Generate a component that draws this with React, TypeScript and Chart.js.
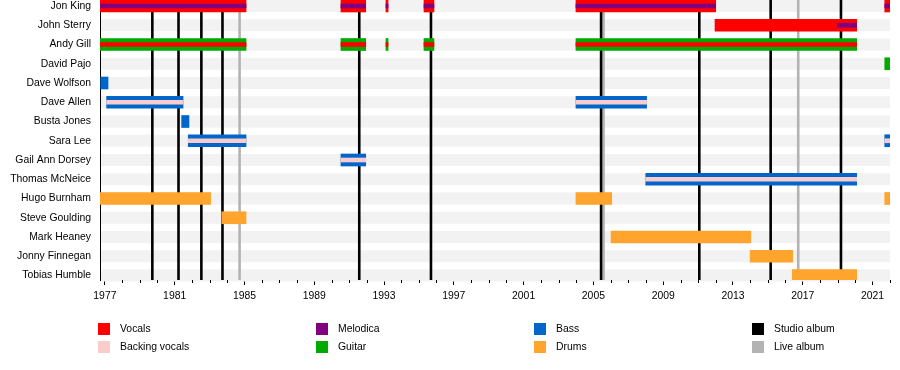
import React, { useEffect, useRef } from "react";
import { Chart, registerables } from "chart.js";
Chart.register(...registerables);

const members = [
  "Jon King", "John Sterry", "Andy Gill", "David Pajo", "Dave Wolfson", "Dave Allen",
  "Busta Jones", "Sara Lee", "Gail Ann Dorsey", "Thomas McNeice", "Hugo Burnham",
  "Steve Goulding", "Mark Heaney", "Jonny Finnegan", "Tobias Humble",
];

const xMin = 1976.72;
const xMax = 2022;
const majorYears = [1977, 1981, 1985, 1989, 1993, 1997, 2001, 2005, 2009, 2013, 2017, 2021];

type Seg = [string, number, number];

// full-height bars
const vocals: Seg[] = [
  ["Jon King", 1976.72, 1985.09], ["Jon King", 1990.53, 1991.95], ["Jon King", 1993.11, 1993.23],
  ["Jon King", 1995.29, 1995.86], ["Jon King", 2004.0, 2012.01], ["Jon King", 2021.7, 2022],
  ["John Sterry", 2011.97, 2020.09],
];
const guitar: Seg[] = [
  ["Andy Gill", 1976.72, 1985.09], ["Andy Gill", 1990.53, 1991.95], ["Andy Gill", 1993.11, 1993.23],
  ["Andy Gill", 1995.29, 1995.86], ["Andy Gill", 2004.0, 2020.09],
  ["David Pajo", 2021.7, 2022],
];
const bass: Seg[] = [
  ["Dave Wolfson", 1976.76, 1977.18],
  ["Dave Allen", 1977.1, 1981.48], ["Dave Allen", 2004.0, 2008.05],
  ["Busta Jones", 1981.4, 1981.82],
  ["Sara Lee", 1981.78, 1985.09], ["Sara Lee", 2021.7, 2022],
  ["Gail Ann Dorsey", 1990.53, 1991.95],
  ["Thomas McNeice", 2008.0, 2020.09],
];
const drums: Seg[] = [
  ["Hugo Burnham", 1976.72, 1983.06], ["Hugo Burnham", 2004.0, 2006.05], ["Hugo Burnham", 2021.7, 2022],
  ["Steve Goulding", 1983.7, 1985.09],
  ["Mark Heaney", 2006.01, 2014.02],
  ["Jonny Finnegan", 2013.98, 2016.42],
  ["Tobias Humble", 2016.4, 2020.09],
];

// thin stripes drawn over the bars
const melodica: Seg[] = [
  ["Jon King", 1976.72, 1985.09], ["Jon King", 1990.53, 1991.95], ["Jon King", 1993.11, 1993.23],
  ["Jon King", 1995.29, 1995.86], ["Jon King", 2004.0, 2012.01], ["Jon King", 2021.7, 2022],
  ["John Sterry", 2018.98, 2020.09],
];
const vocalsStripe: Seg[] = [
  ["Andy Gill", 1976.72, 1985.09], ["Andy Gill", 1990.53, 1991.95], ["Andy Gill", 1993.11, 1993.23],
  ["Andy Gill", 1995.29, 1995.86], ["Andy Gill", 2004.0, 2020.09],
];
const backingVocals: Seg[] = [
  ["Dave Allen", 1977.1, 1981.48], ["Dave Allen", 2004.0, 2008.05],
  ["Sara Lee", 1981.78, 1985.09], ["Sara Lee", 2021.7, 2022],
  ["Gail Ann Dorsey", 1990.53, 1991.95],
  ["Thomas McNeice", 2008.0, 2020.09],
];

const studioAlbums = [1979.72, 1981.22, 1982.53, 1983.74, 1991.58, 1995.69, 2005.44, 2011.07, 2015.16, 2019.19];
const liveAlbums = [1984.72, 2005.58, 2016.74];

const legendLabels = ["Vocals", "Backing vocals", "Melodica", "Guitar", "Bass", "Drums", "Studio album", "Live album"];

const COLORS: Record<string, string> = {
  "Vocals": "#ff0000",
  "Backing vocals": "#fbcccc",
  "Melodica": "#800080",
  "Guitar": "#00aa00",
  "Bass": "#0066cc",
  "Drums": "#ffa42c",
  "Studio album": "#000000",
  "Live album": "#b3b3b3",
};

const FONT = "'Liberation Sans', Arial, sans-serif";
const FSIZE = 10.4;

const toPoints = (segs: Seg[]) => segs.map(([n, s, e]) => ({ x: [s, e], y: members.indexOf(n) }));

export default function App() {
  const ref = useRef<HTMLCanvasElement | null>(null);

  useEffect(() => {
    document.body.style.margin = "0";
    const canvas = ref.current!;
    const mk = (label: string, segs: Seg[], thick: number, order: number) => ({
      label,
      data: toPoints(segs),
      backgroundColor: COLORS[label],
      borderWidth: 0,
      borderSkipped: false,
      barThickness: thick,
      grouped: false,
      order,
    });

    const background = {
      id: "bgLines",
      beforeDatasetsDraw(chart: any) {
        const { ctx, chartArea, scales } = chart;
        const xs = scales.x, ys = scales.y;
        ctx.save();
        ctx.fillStyle = "#f2f2f2";
        members.forEach((_, i) => {
          const y = ys.getPixelForValue(i);
          ctx.fillRect(chartArea.left + 1, y - 6, chartArea.right - chartArea.left - 1, 12);
        });
        const drawLines = (years: number[], color: string) => {
          ctx.strokeStyle = color;
          ctx.lineWidth = 2.6;
          years.forEach((yr) => {
            const x = xs.getPixelForValue(yr);
            ctx.beginPath();
            ctx.moveTo(x, chartArea.top);
            ctx.lineTo(x, chartArea.bottom);
            ctx.stroke();
          });
        };
        drawLines(liveAlbums, COLORS["Live album"]);
        drawLines(studioAlbums, COLORS["Studio album"]);
        ctx.restore();
      },
      afterDraw(chart: any) {
        const { ctx, chartArea, scales } = chart;
        const xs = scales.x;
        ctx.save();
        // minor ticks
        ctx.strokeStyle = "#000";
        ctx.lineWidth = 1;
        for (let yr = Math.ceil(xMin); yr <= xMax; yr++) {
          if (majorYears.includes(yr)) continue;
          const x = Math.round(xs.getPixelForValue(yr)) + 0.5;
          ctx.beginPath();
          ctx.moveTo(x, chartArea.bottom);
          ctx.lineTo(x, chartArea.bottom + 3);
          ctx.stroke();
        }
        // legend
        const colX = [98, 316, 534, 752];
        const rowY = [329, 347];
        ctx.font = `${FSIZE}px ${FONT}`;
        ctx.textBaseline = "middle";
        ctx.textAlign = "left";
        legendLabels.forEach((lab, i) => {
          const c = Math.floor(i / 2), r = i % 2;
          ctx.fillStyle = COLORS[lab];
          ctx.fillRect(colX[c], rowY[r] - 6, 12, 12);
          ctx.fillStyle = "#000";
          ctx.fillText(lab, colX[c] + 22, rowY[r] + 0.5);
        });
        ctx.restore();
      },
    };

    const chart = new Chart(canvas, {
      type: "bar",
      data: {
        datasets: [
          mk("Melodica", melodica, 4, 0),
          mk("Vocals", vocalsStripe, 4, 0),
          mk("Backing vocals", backingVocals, 4, 0),
          mk("Vocals", vocals, 12, 1),
          mk("Guitar", guitar, 12, 1),
          mk("Bass", bass, 12, 1),
          mk("Drums", drums, 12, 1),
        ] as any,
      },
      plugins: [background],
      options: {
        indexAxis: "y",
        animation: false,
        responsive: false,
        maintainAspectRatio: false,
        layout: { padding: { left: 0, right: 10, top: 0, bottom: 0 } },
        plugins: { legend: { display: false }, tooltip: { enabled: false } },
        scales: {
          x: {
            type: "linear",
            min: xMin,
            max: xMax,
            beginAtZero: false,
            afterBuildTicks: (s: any) => {
              s.ticks = majorYears.map((v) => ({ value: v }));
            },
            afterFit: (s: any) => {
              s.height = 90;
              s.paddingLeft = 0;
              s.paddingRight = 0;
            },
            ticks: {
              autoSkip: false,
              maxRotation: 0,
              padding: 5,
              color: "#000",
              font: { family: FONT, size: FSIZE },
              callback: (v: any) => String(v),
            },
            grid: { display: true, drawOnChartArea: false, drawTicks: true, tickLength: 5, tickColor: "#000", tickWidth: 1 },
            border: { display: true, color: "#000", width: 1 },
          },
          y: {
            type: "linear",
            reverse: true,
            min: -0.312,
            max: 14.234,
            offset: false,
            afterBuildTicks: (s: any) => {
              s.ticks = members.map((_, i) => ({ value: i }));
            },
            afterFit: (s: any) => {
              s.width = 100;
              s.paddingTop = 0;
              s.paddingBottom = 0;
            },
            ticks: {
              autoSkip: false,
              padding: 9,
              color: "#000",
              font: { family: FONT, size: FSIZE },
              callback: (v: any) => members[v] ?? "",
            },
            grid: { display: false, drawTicks: false, offset: false },
            border: { display: true, color: "#000", width: 1 },
          },
        },
      } as any,
    });
    return () => chart.destroy();
  }, []);

  return (
    <div style={{ width: 900, height: 370 }}>
      <canvas ref={ref} width={900} height={370} style={{ display: "block" }} />
    </div>
  );
}
